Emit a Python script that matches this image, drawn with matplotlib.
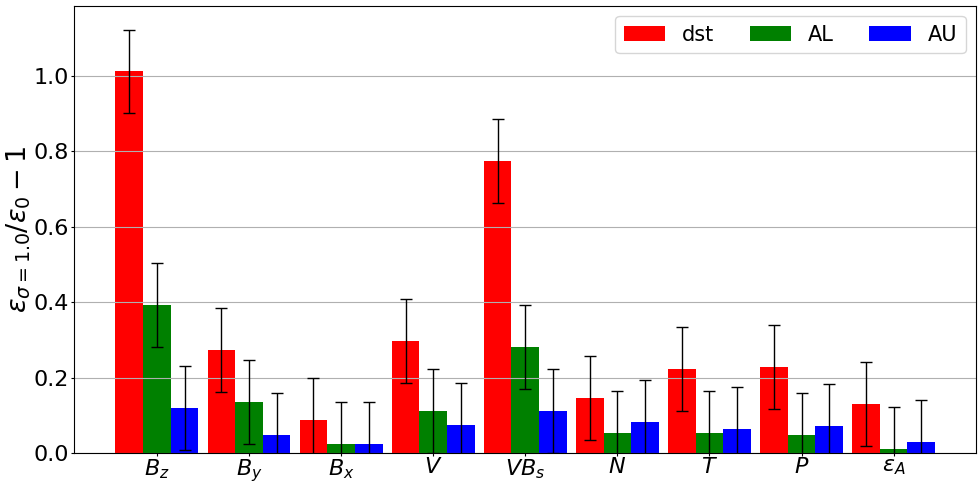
import numpy as np
import matplotlib
matplotlib.use("Agg")
import matplotlib.pyplot as plt

# relative error increase per input parameter
params = [r'$B_z$', r'$B_y$', r'$B_x$', r'$V$', r'$VB_s$', r'$N$', r'$T$', r'$P$', r'$\varepsilon_A$']
dst = [1.011, 0.274, 0.087, 0.296, 0.773, 0.145, 0.222, 0.227, 0.129]
al  = [0.393, 0.135, 0.024, 0.111, 0.282, 0.053, 0.053, 0.048, 0.011]
au  = [0.119, 0.048, 0.024, 0.074, 0.111, 0.082, 0.063, 0.071, 0.029]
dst_err = [0.111] * 9
al_err  = [0.111] * 9
au_err  = [0.111] * 9

x = np.arange(len(params))
w = 0.3

fig, ax = plt.subplots(figsize=(9.8, 4.83), dpi=100)
ekw = dict(ecolor='black', capsize=4, error_kw=dict(elinewidth=1, capthick=1))
ax.bar(x - w, dst, w, yerr=dst_err, color='red', label='dst', **ekw)
ax.bar(x, al, w, yerr=al_err, color='green', label='AL', **ekw)
ax.bar(x + w, au, w, yerr=au_err, color='blue', label='AU', **ekw)

ax.set_xticks(x)
ax.set_xticklabels(params, fontsize=16)
ax.tick_params(axis='both', labelsize=16, length=2.5, pad=1.5)
ax.tick_params(axis='x', pad=0.5)
ax.set_ylim(0, 1.185)
ax.set_ylabel(r'$\varepsilon_{\sigma=1.0}/\varepsilon_0 - 1$', fontsize=19.5, labelpad=0)
ax.yaxis.grid(True)
ax.legend(loc='upper right', ncol=3, fontsize=15, columnspacing=1.7)

plt.subplots_adjust(left=0.076, right=0.996, top=0.988, bottom=0.062)
plt.savefig('out.png', dpi=100)
